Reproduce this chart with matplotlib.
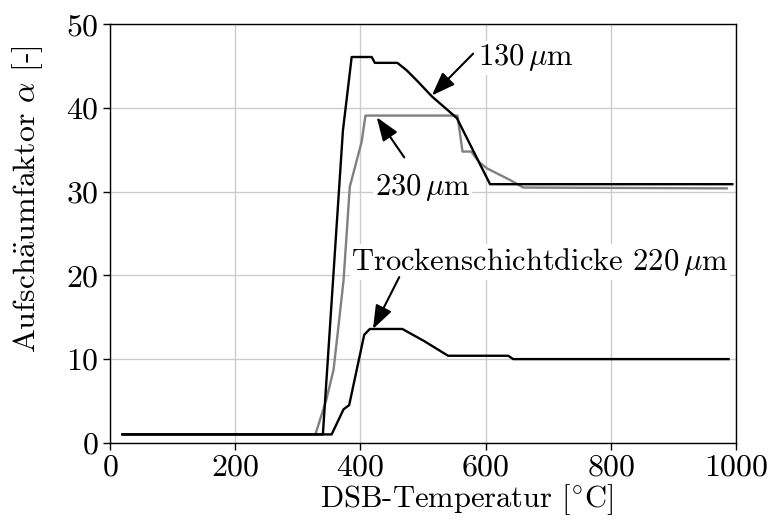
import matplotlib
matplotlib.use("Agg")
import matplotlib.pyplot as plt

plt.rcParams["font.family"] = ["cmr10", "DejaVu Serif"]
plt.rcParams["mathtext.fontset"] = "cm"
plt.rcParams["axes.formatter.use_mathtext"] = True
plt.rcParams["axes.unicode_minus"] = False

# Foaming factor vs. DSB temperature for three dry film thicknesses
t_130 = [20, 340, 372, 386, 418, 423, 459, 474, 490, 514, 554, 607, 994]
a_130 = [1.0, 1.0, 37.3, 46.1, 46.1, 45.4, 45.4, 44.5, 43.3, 41.4, 38.8, 30.9, 30.9]

t_230 = [20, 328, 345, 357, 365, 373, 383, 395, 402, 408, 555, 563, 577,
         590, 602, 623, 639, 660, 985]
a_230 = [1.0, 1.0, 5.0, 8.7, 14.0, 19.4, 30.6, 34.0, 36.0, 39.1, 39.1, 34.8,
         34.8, 33.5, 32.8, 32.0, 31.4, 30.5, 30.4]

t_220 = [20, 354, 373, 382, 406, 415, 467, 503, 516, 540, 636, 644, 988]
a_220 = [1.0, 1.0, 4.0, 4.5, 12.9, 13.6, 13.6, 12.1, 11.5, 10.4, 10.4, 10.0, 10.0]

x_ticks = [0, 200, 400, 600, 800, 1000]
y_ticks = [0, 10, 20, 30, 40, 50]

fig = plt.figure(figsize=(7.71, 5.24), dpi=100)
ax = fig.add_axes([0.1427, 0.155, 0.812, 0.7985])

ax.grid(True, color="#cccccc", lw=1.0)
ax.set_axisbelow(True)

ax.plot(t_230, a_230, color="#808080", lw=1.7, zorder=3)
ax.plot(t_130, a_130, color="black", lw=1.7, zorder=4)
ax.plot(t_220, a_220, color="black", lw=1.7, zorder=4)

ax.set_xlim(0, 1000)
ax.set_ylim(0, 50)
ax.set_xticks(x_ticks)
ax.set_yticks(y_ticks)
ax.tick_params(direction="out", length=5, width=1, labelsize=23, pad=3)
for s in ax.spines.values():
    s.set_linewidth(1.0)

ax.set_xlabel("DSB-Temperatur [$^{\\circ}$C]", fontsize=22, labelpad=0)
ax.xaxis.set_label_coords(0.57, -0.095)
ax.set_ylabel("Aufsch$\\ddot{\\mathrm{a}}$umfaktor $\\alpha$ [-]", fontsize=23)
ax.yaxis.set_label_coords(-0.104, 0.582)

arrow = dict(arrowstyle="-|>,head_length=0.6,head_width=0.22", color="black",
             lw=1.5, mutation_scale=24, shrinkA=0, shrinkB=0)
box = dict(facecolor="white", edgecolor="none", pad=1)

ax.annotate("", xy=(514, 41.5), xytext=(580, 46.5), arrowprops=arrow, zorder=6)
ax.text(588, 46.0, "130$\\,\\mu$m", fontsize=22, ha="left", va="center",
        bbox=box, zorder=5)

ax.annotate("", xy=(426, 38.9), xytext=(470, 34.1), arrowprops=arrow, zorder=6)
ax.text(423, 30.5, "230$\\,\\mu$m", fontsize=22, ha="left", va="center",
        bbox=box, zorder=5)

ax.annotate("", xy=(420, 13.6), xytext=(462, 19.8), arrowprops=arrow, zorder=6)
ax.text(385, 21.6, "Trockenschichtdicke 220$\\,\\mu$m", fontsize=22,
        ha="left", va="center", bbox=box, zorder=5)

fig.savefig("out.png", dpi=100)
